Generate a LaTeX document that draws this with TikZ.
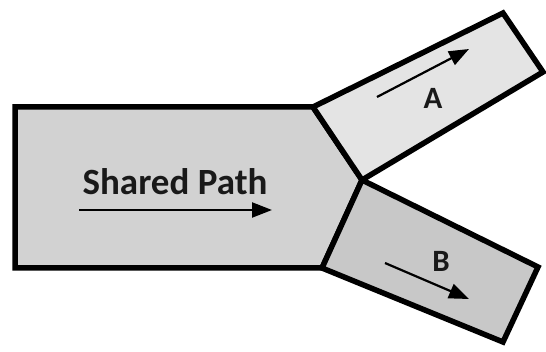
\documentclass[tikz,border=0pt]{standalone}
\usepackage{fontspec}
\setmainfont{Carlito}
\usetikzlibrary{arrows.meta}
\definecolor{pathgray}{RGB}{210,210,210}
\definecolor{lightgray}{RGB}{228,228,228}
\definecolor{midgray}{RGB}{200,200,200}

\begin{document}
\begin{tikzpicture}[
  x=1pt, y=-1pt,
  part/.style={draw=black, line width=5.5pt, line join=miter},
  flow/.style={-{Triangle[length=20pt, width=15pt]}, line width=2.2pt},
  lbl/.style={font=\fontsize{37}{42}\selectfont\bfseries, text=black!90, inner sep=0pt},
  tag/.style={font=\fontsize{31}{36}\selectfont\bfseries, text=black!90, inner sep=0pt}
]
\useasboundingbox (0,0) rectangle (546,352);

% shared trunk and the two branches
\draw[part, fill=pathgray] (15,107) -- (313,107) -- (362,180) -- (322,268) -- (15,268) -- cycle;
\draw[part, fill=lightgray] (313,107) -- (503,13) -- (543,72) -- (362,180) -- cycle;
\draw[part, fill=midgray] (362,180) -- (538,267) -- (503,342) -- (322,268) -- cycle;

% labels
\node[lbl] (shared) at (175,182) {Shared Path};
\node[tag] (labA) at (433,98) {A};
\node[tag] (labB) at (441,261) {B};

% direction arrows
\coordinate (s0) at (79,210);
\coordinate (s1) at (272,210);
\coordinate (a0) at (377,97);
\coordinate (a1) at (469,49);
\coordinate (b0) at (385,263);
\coordinate (b1) at (469,299);
\draw[flow] (s0) -- (s1);
\draw[flow] (a0) -- (a1);
\draw[flow] (b0) -- (b1);
\end{tikzpicture}
\end{document}
